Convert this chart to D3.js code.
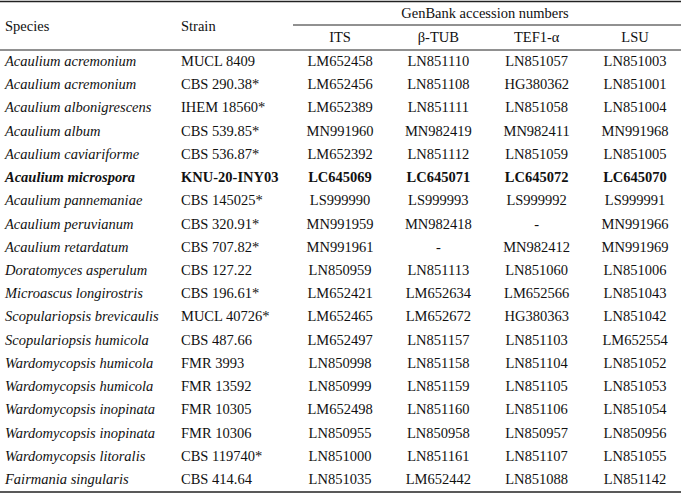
<!DOCTYPE html>
<html><head><meta charset="utf-8">
<script src="https://cdn.jsdelivr.net/npm/d3@7"></script>
<style>body{margin:0;background:#fff} text{font-family:'Liberation Serif','Times New Roman',Tinos,serif}</style></head>
<body><svg id="c" width="681" height="494"></svg>
<script>
const species=["Acaulium acremonium","Acaulium acremonium","Acaulium albonigrescens","Acaulium album","Acaulium caviariforme","Acaulium microspora","Acaulium pannemaniae","Acaulium peruvianum","Acaulium retardatum","Doratomyces asperulum","Microascus longirostris","Scopulariopsis brevicaulis","Scopulariopsis humicola","Wardomycopsis humicola","Wardomycopsis humicola","Wardomycopsis inopinata","Wardomycopsis inopinata","Wardomycopsis litoralis","Fairmania singularis"];
const strains=["MUCL 8409","CBS 290.38*","IHEM 18560*","CBS 539.85*","CBS 536.87*","KNU-20-INY03","CBS 145025*","CBS 320.91*","CBS 707.82*","CBS 127.22","CBS 196.61*","MUCL 40726*","CBS 487.66","FMR 3993","FMR 13592","FMR 10305","FMR 10306","CBS 119740*","CBS 414.64"];
const its=["LM652458","LM652456","LM652389","MN991960","LM652392","LC645069","LS999990","MN991959","MN991961","LN850959","LM652421","LM652465","LM652497","LN850998","LN850999","LM652498","LN850955","LN851000","LN851035"];
const tub=["LN851110","LN851108","LN851111","MN982419","LN851112","LC645071","LS999993","MN982418","-","LN851113","LM652634","LM652672","LN851157","LN851158","LN851159","LN851160","LN850958","LN851161","LM652442"];
const tef=["LN851057","HG380362","LN851058","MN982411","LN851059","LC645072","LS999992","-","MN982412","LN851060","LM652566","HG380363","LN851103","LN851104","LN851105","LN851106","LN850957","LN851107","LN851088"];
const lsu=["LN851003","LN851001","LN851004","MN991968","LN851005","LC645070","LS999991","MN991966","MN991969","LN851006","LN851043","LN851042","LM652554","LN851052","LN851053","LN851054","LN850956","LN851055","LN851142"];
const genes=["ITS","β-TUB","TEF1-α","LSU"];
const boldRow=5;

const svg=d3.select("#c");
const g=svg.append("g").attr("font-size",14.5).attr("fill","#111");
const y=d3.scalePoint().domain(d3.range(species.length)).range([61,479]);
const x=d3.scalePoint().domain(genes).range([340,635]);
const line=(x1,x2,yy,w)=>svg.append("line").attr("x1",x1).attr("x2",x2).attr("y1",yy).attr("y2",yy).attr("stroke","#222").attr("stroke-width",w);
line(0,681,1.5,1.5);line(293,681,25,1);line(0,681,50,1);line(0,681,492,1.5);
g.append("text").attr("x",485).attr("y",18).attr("text-anchor","middle").text("GenBank accession numbers");
g.append("text").attr("x",5).attr("y",31).text("Species");
g.append("text").attr("x",181).attr("y",31).text("Strain");
genes.forEach(k=>g.append("text").attr("x",x(k)).attr("y",42).attr("text-anchor","middle").text(k));
const cols=[its,tub,tef,lsu];
species.forEach((s,i)=>{
  const b=i===boldRow?"bold":"normal";
  g.append("text").attr("x",5).attr("y",y(i)+5).attr("font-style","italic").attr("font-weight",b).text(s);
  g.append("text").attr("x",181).attr("y",y(i)+5).attr("font-weight",b).text(strains[i]);
  cols.forEach((c,j)=>g.append("text").attr("x",x(genes[j])).attr("y",y(i)+5).attr("text-anchor","middle").attr("font-weight",b).text(c[i]));
});
</script></body></html>
